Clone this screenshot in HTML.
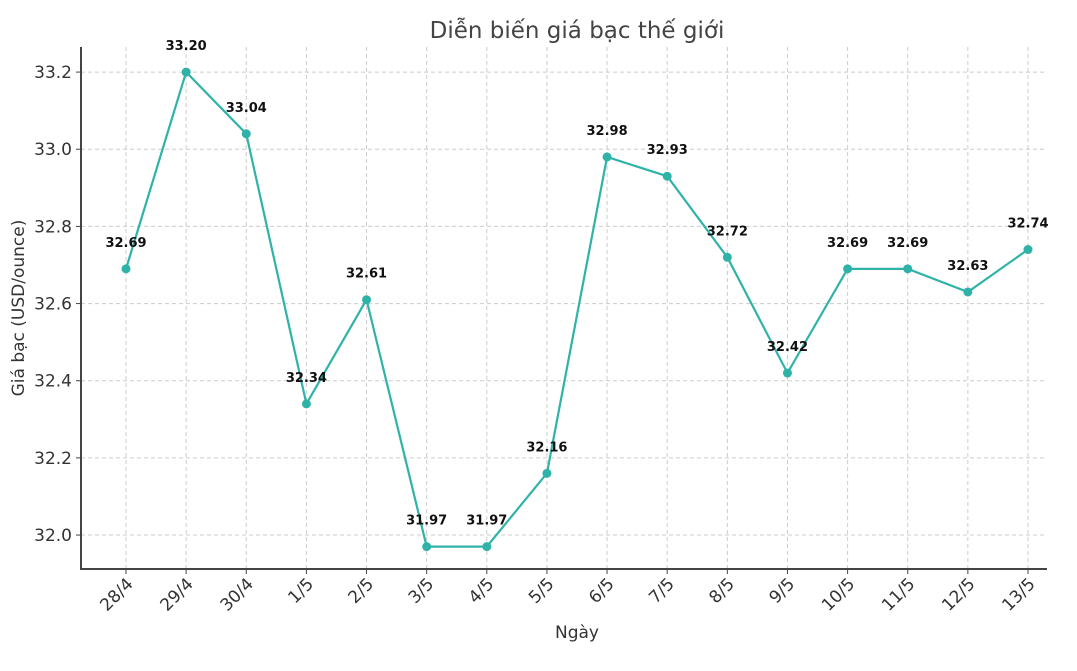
<!DOCTYPE html>
<html><head><meta charset="utf-8"><style>
body{margin:0;background:#fff}
svg{display:block;font-family:"DejaVu Sans","Liberation Sans",sans-serif}
</style></head><body>
<svg id="chart" width="1077" height="671">
<text x="577" y="38" text-anchor="middle" font-size="23" fill="#444">Diễn biến giá bạc thế giới</text>
<text x="577" y="638" text-anchor="middle" font-size="17" fill="#333">Ngày</text>
<text transform="translate(24,308) rotate(-90)" text-anchor="middle" font-size="17" fill="#333">Giá bạc (USD/ounce)</text>
<g id="grid"></g><g id="axes"></g><g id="series"></g>
</svg>
<script>
const categories=["28/4","29/4","30/4","1/5","2/5","3/5","4/5","5/5","6/5","7/5","8/5","9/5","10/5","11/5","12/5","13/5"];
const values=[32.69,33.20,33.04,32.34,32.61,31.97,31.97,32.16,32.98,32.93,32.72,32.42,32.69,32.69,32.63,32.74];
const yTicks=[32.0,32.2,32.4,32.6,32.8,33.0,33.2];
const NS="http://www.w3.org/2000/svg";
const L=81,R=1072,T=47,B=569;
const yMin=31.912,yMax=33.265;
const x=i=>126+i*(1028-126)/(categories.length-1);
const y=v=>B-(v-yMin)/(yMax-yMin)*(B-T);
function mk(t,a,p){const e=document.createElementNS(NS,t);for(const k in a)e.setAttribute(k,a[k]);p.appendChild(e);return e;}
const grid=document.getElementById('grid'),axes=document.getElementById('axes'),series=document.getElementById('series');
yTicks.forEach(v=>{
 const g=mk('line',{x1:L,x2:1047,y1:y(v),y2:y(v),stroke:'#ccc','stroke-dasharray':'4,3'},grid);
 
 
 mk('line',{x1:L-5,x2:L,y1:y(v),y2:y(v),stroke:'#444'},axes);
 const t=mk('text',{x:L-9,y:y(v)+6,'text-anchor':'end','font-size':17,fill:'#333'},axes);
 t.textContent=v.toFixed(1);
 
 
});
categories.forEach((c,i)=>{
 const g=mk('line',{x1:x(i),x2:x(i),y1:T,y2:B,stroke:'#ccc','stroke-dasharray':'4,3'},grid);
 
 
 mk('line',{x1:x(i),x2:x(i),y1:B,y2:B+5,stroke:'#444'},axes);
 const t=mk('text',{transform:`translate(${x(i)+8},${B+16}) rotate(-45)`,'text-anchor':'end','font-size':17,fill:'#333'},axes);
 t.textContent=c;
 
 
});
const ax=mk('path',{d:`M${L},${T}V${B}H1047`,stroke:'#444','stroke-width':2,fill:'none'},axes);


const line=mk('polyline',{points:values.map((v,i)=>x(i)+','+y(v)).join(' '),fill:'none',stroke:'#2fb3a8','stroke-width':2.2},series);


values.forEach((v,i)=>{
 const p=mk('circle',{cx:x(i),cy:y(v),r:4.5,fill:'#2fb3a8'},series);
 
 
 const t=mk('text',{x:x(i),y:y(v)-22,'text-anchor':'middle','font-size':13,'font-weight':'bold',fill:'#111'},series);
 t.textContent=v.toFixed(2);
 
 
});
</script>
</body></html>
